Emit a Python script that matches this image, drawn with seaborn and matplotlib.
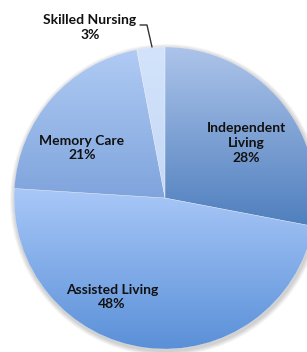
import numpy as np
import matplotlib
matplotlib.use("Agg")
import matplotlib.pyplot as plt
import seaborn as sns
from matplotlib.colors import to_rgb
from matplotlib.patches import Circle

# data
categories = ["Independent\nLiving", "Assisted Living", "Memory Care", "Skilled Nursing"]
shares = [28, 48, 21, 3]
top_colors = ["#adc4ea", "#a9c8f8", "#b0cbf4", "#d3e3fb"]
bottom_colors = ["#4f7fbe", "#5a90d8", "#7fa4dc", "#c4d8f6"]

sns.set_theme(style="white")
plt.rcParams['font.family'] = ['Lato', 'DejaVu Sans']

fig = plt.figure(figsize=(3.07, 3.52), dpi=100)
ax = fig.add_axes([0, 0, 1, 1])

cx, cy, r = 165, 154, 151

# soft shadow under the pie
for k in range(6):
    ax.add_patch(Circle((cx + 1, cy - 2), r + 1 + k * 0.8, color="black",
                        alpha=0.03, lw=0, zorder=0))

wedges, _ = ax.pie(shares, startangle=90, counterclock=False,
                   center=(cx, cy), radius=r,
                   wedgeprops=dict(linewidth=0.3, edgecolor=(1, 1, 1, 0.5)))

# vertical gradient inside each slice
for w, top, bot in zip(wedges, top_colors, bottom_colors):
    x0, y0, x1, y1 = w.get_path().get_extents().extents
    t = np.linspace(0, 1, 256)[:, None, None]
    grad = (1 - t) * np.array(to_rgb(bot)) + t * np.array(to_rgb(top))
    im = ax.imshow(grad, extent=(x0, x1, y0, y1), origin="lower",
                   aspect="auto", interpolation="bilinear", zorder=1)
    im.set_clip_path(w)
    w.set_facecolor("none")
    w.set_zorder(2)

ax.set_xlim(0, 307)
ax.set_ylim(0, 352)
ax.set_aspect("auto")
ax.axis("off")

txt = dict(ha="center", va="center", fontsize=10, fontweight="bold",
           color="#111111", linespacing=1.25, zorder=5)
ax.text(246, 209, f"{categories[0]}\n{shares[0]}%", **txt)
ax.text(112, 55, f"{categories[1]}\n{shares[1]}%", **txt)
ax.text(82, 204, f"{categories[2]}\n{shares[2]}%", **txt)
ax.text(90, 324.5, f"{categories[3]}\n{shares[3]}%", **txt)
ax.plot([140, 147, 152], [327, 327, 305], color="#333333", lw=1, zorder=5)

fig.savefig("out.png", dpi=100)
